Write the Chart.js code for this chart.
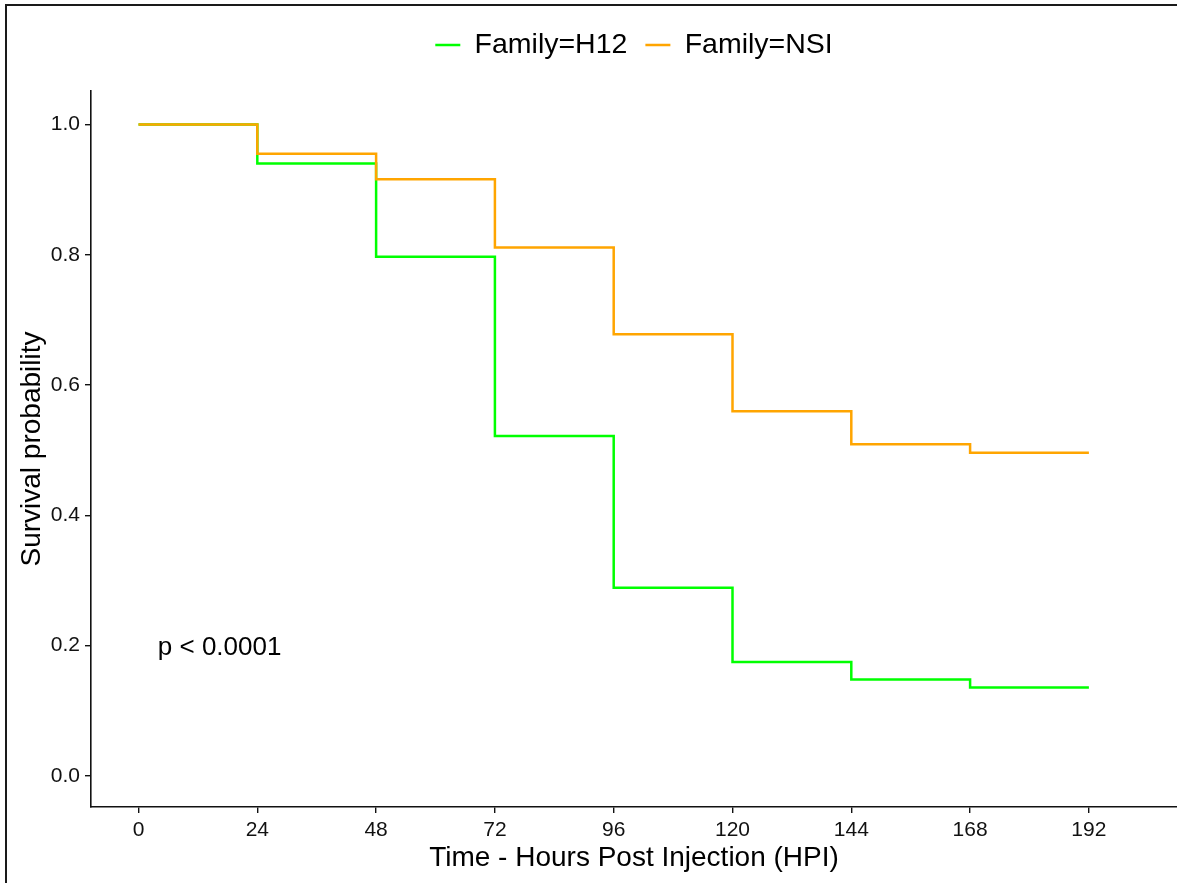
<!DOCTYPE html>
<html>
<head>
<meta charset="utf-8">
<script src="https://cdn.jsdelivr.net/npm/chart.js@4"></script>
<style>
  html, body { margin: 0; padding: 0; background: #fff; }
  #wrap { width: 1177px; height: 883px; }
</style>
</head>
<body>
<div id="wrap"><canvas id="km"></canvas></div>
<script>
// Kaplan-Meier steps
const hours = [0, 24, 48, 72, 96, 120, 144, 168, 192]
const survH12 = [1.0, 0.94, 0.797, 0.522, 0.289, 0.175, 0.148, 0.136, 0.136]
const survNSI = [1.0, 0.955, 0.916, 0.811, 0.678, 0.56, 0.509, 0.496, 0.496]
const yTicks = [0, 0.2, 0.4, 0.6, 0.8, 1.0]
const seriesNames = ['Family=H12', 'Family=NSI']
const seriesColors = ['#00ff00', '#ffa500']
const pText = 'p < 0.0001'
const pAt = { x: 3.9, y: 0.196 }

Chart.defaults.font.family = "'Liberation Sans', Arial, sans-serif"
Chart.defaults.color = '#000'

function toPoints(values) {
  return hours.map((h, i) => ({ x: h, y: values[i] }))
}

const framePlugin = {
  id: 'frame',
  beforeDraw(chart) {
    const { ctx, width, height } = chart
    ctx.save()
    ctx.fillStyle = '#fff'
    ctx.fillRect(0, 0, width, height)
    ctx.strokeStyle = '#1a1a1a'
    ctx.lineWidth = 2
    ctx.beginPath()
    ctx.moveTo(6, height)
    ctx.lineTo(6, 5)
    ctx.lineTo(width, 5)
    ctx.stroke()
    ctx.restore()
  },
}

const pvalPlugin = {
  id: 'pval',
  afterDatasetsDraw(chart) {
    const { ctx, scales } = chart
    ctx.save()
    ctx.font = "26px 'Liberation Sans', Arial, sans-serif"
    ctx.fillStyle = '#000'
    ctx.textAlign = 'left'
    ctx.textBaseline = 'middle'
    ctx.fillText(pText, scales.x.getPixelForValue(pAt.x), scales.y.getPixelForValue(pAt.y))
    ctx.restore()
  },
}

const axisGrid = { drawOnChartArea: false, drawTicks: true, tickLength: 6, color: '#111', lineWidth: 1.4 }
const axisBorder = { color: '#111', width: 1.6 }

new Chart(document.getElementById('km'), {
  type: 'line',
  data: {
    datasets: [
      {
        label: seriesNames[0],
        data: toPoints(survH12),
        borderColor: seriesColors[0],
        backgroundColor: seriesColors[0],
        borderWidth: 2.5,
        stepped: true,
        pointRadius: 0,
        fill: false,
        order: 1,
      },
      {
        label: seriesNames[1],
        data: toPoints(survNSI),
        borderColor: seriesColors[1],
        backgroundColor: seriesColors[1],
        borderWidth: 2.5,
        stepped: true,
        pointRadius: 0,
        fill: false,
        order: 0,
      },
    ],
  },
  options: {
    responsive: true,
    maintainAspectRatio: false,
    animation: false,
    layout: { padding: { top: 12.75, left: 0, right: 0, bottom: 0 } },
    plugins: {
      legend: {
        position: 'top',
        fullSize: false,
        labels: {
          boxWidth: 25,
          boxHeight: 2.5,
          padding: 18,
          color: '#000',
          font: { size: 28.5 },
          sort: (a, b) => a.datasetIndex - b.datasetIndex,
          generateLabels: (chart) =>
            Chart.defaults.plugins.legend.labels.generateLabels(chart).map((item) => ({ ...item, lineWidth: 0 })),
        },
      },
      // empty spacer between legend and plot
      subtitle: {
        display: true,
        text: '',
        weight: 500,
        fullSize: false,
        padding: { top: 0, bottom: 0 },
        font: { size: 18.125 },
      },
      tooltip: { enabled: false },
    },
    scales: {
      x: {
        type: 'linear',
        min: -9.6,
        max: 209.8,
        afterBuildTicks: (scale) => {
          scale.ticks = hours.map((v) => ({ value: v }))
        },
        afterFit: (scale) => {
          scale.height = 76
        },
        ticks: { color: '#111', font: { size: 21 }, padding: 5, maxRotation: 0, autoSkip: false },
        grid: axisGrid,
        border: axisBorder,
        title: {
          display: true,
          text: 'Time - Hours Post Injection (HPI)',
          color: '#000',
          font: { size: 28 },
          padding: { top: 0, bottom: 8 },
        },
      },
      y: {
        type: 'linear',
        min: -0.0476,
        max: 1.0514,
        afterBuildTicks: (scale) => {
          scale.ticks = yTicks.map((v) => ({ value: v }))
        },
        afterFit: (scale) => {
          scale.width = 91
        },
        ticks: {
          color: '#111',
          font: { size: 21 },
          padding: 5,
          callback: (value) => Number(value).toFixed(1),
        },
        grid: axisGrid,
        border: axisBorder,
        title: {
          display: true,
          text: 'Survival probability',
          color: '#000',
          font: { size: 28 },
          padding: { top: 15, bottom: 0 },
        },
      },
    },
  },
  plugins: [framePlugin, pvalPlugin],
})
</script>
</body>
</html>
